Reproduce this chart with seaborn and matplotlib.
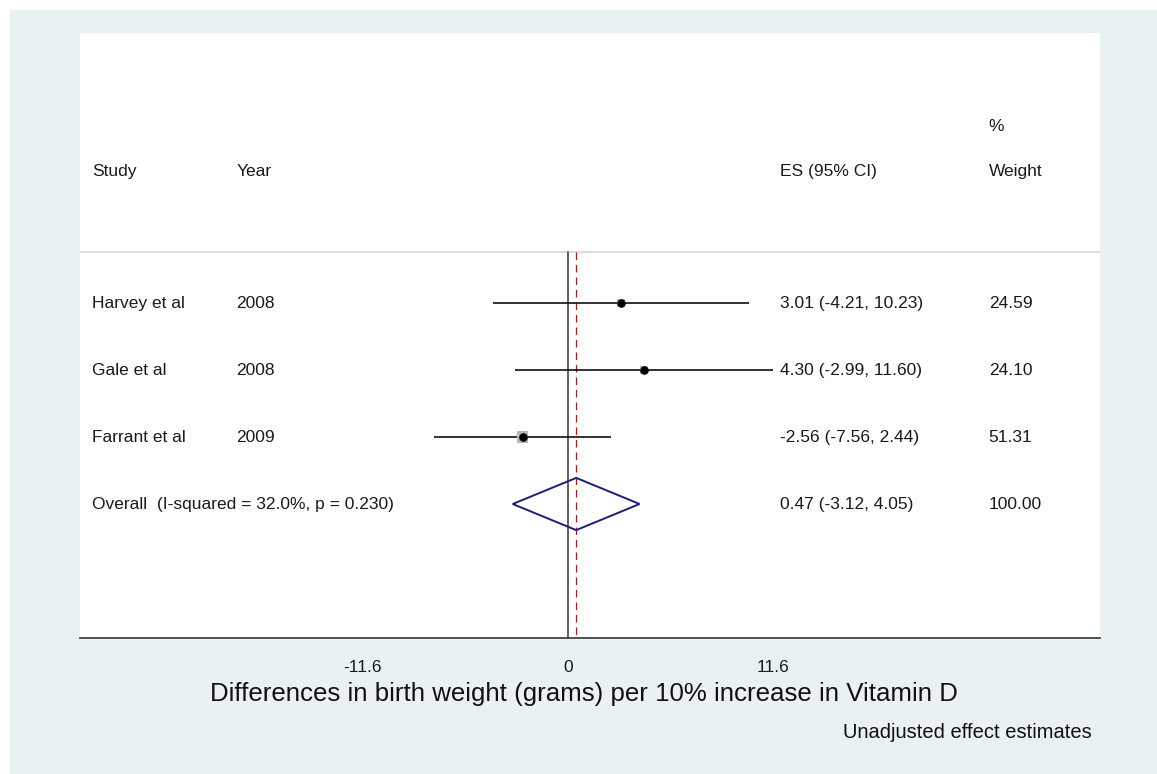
import matplotlib
matplotlib.use("Agg")
import matplotlib.pyplot as plt
import matplotlib.patches as mpatches
import numpy as np
import pandas as pd
import seaborn as sns

# Study-level estimates (differences in birth weight per 10% increase in vitamin D)
studies = ["Harvey et al", "Gale et al", "Farrant et al"]
years = ["2008", "2008", "2009"]
es = [3.01, 4.30, -2.56]
lo = [-4.21, -2.99, -7.56]
hi = [10.23, 11.60, 2.44]
weights = [24.59, 24.10, 51.31]

# Pooled estimate
overall_label = "Overall  (I-squared = 32.0%, p = 0.230)"
overall_es = 0.47
overall_lo = -3.12
overall_hi = 4.05
overall_weight = 100.00

xticks = [-11.6, 0, 11.6]
xtick_labels = ["-11.6", "0", "11.6"]

sns.set_style("white")
plt.rcParams["font.family"] = ["Liberation Sans", "DejaVu Sans"]

W, H = 1157, 774
fig = plt.figure(figsize=(W / 100, H / 100), dpi=100, facecolor="white")
# light tinted backdrop behind the plot region
fig.patches.append(mpatches.Rectangle((10 / W, 0), 1 - 10 / W, 1 - 10 / H,
                                      transform=fig.transFigure,
                                      facecolor="#eaf1f3", edgecolor="none", zorder=-5))

ax_left, ax_right, ax_top, ax_bottom = 80, 1100, 33, 638
ax = fig.add_axes([ax_left / W, 1 - ax_bottom / H,
                   (ax_right - ax_left) / W, (ax_bottom - ax_top) / H])
ax.set_zorder(2)
ax.set_facecolor("white")

ax.set_xlim(-27.6, 30.1)
ax.set_ylim(5.0, -4.03)

rows = np.arange(len(studies))
df = pd.DataFrame({"study": studies, "year": years, "es": es, "lo": lo,
                   "hi": hi, "weight": weights, "row": rows})

text_kw = dict(fontsize=12.5, color="#1a1a1a", va="center")
col_study, col_year, col_es, col_wt = -26.9, -18.75, 12.0, 23.8

# header
ax.text(col_study, -1.97, "Study", **text_kw)
ax.text(col_year, -1.97, "Year", **text_kw)
ax.text(col_es, -1.97, "ES (95% CI)", **text_kw)
ax.text(col_wt, -2.63, "%", **text_kw)
ax.text(col_wt, -1.97, "Weight", **text_kw)
ax.axhline(-0.76, color="#dddddd", lw=1.5, zorder=1)

# null line and pooled-estimate line
ax.plot([0, 0], [-0.76, 5.0], color="#555555", lw=1.3, zorder=2, clip_on=False)
ax.plot([overall_es, overall_es], [-0.76, 5.0], color="#9a2020", lw=0.9,
        ls=(0, (6, 4)), zorder=2)

# confidence intervals
ax.hlines(df["row"], df["lo"], df["hi"], color="#111111", lw=1.2, zorder=3)

# weight squares (area proportional to study weight) and point estimates
sq_sizes = [63 * w / max(weights) for w in weights]
ax.scatter(df["es"], df["row"], s=sq_sizes, marker="s", color="#b8b8b8",
           edgecolor="none", zorder=4)
sns.scatterplot(data=df, x="es", y="row", ax=ax, s=32, color="black",
                edgecolor="black", zorder=5, legend=False)

# pooled diamond
yo = len(studies)
ax.fill([overall_lo, overall_es, overall_hi, overall_es],
        [yo, yo - 0.39, yo, yo + 0.39],
        facecolor="none", edgecolor="#1c1f7a", lw=1.4, zorder=5)

# row labels
for i, r in df.iterrows():
    ax.text(col_study, r["row"], r["study"], **text_kw)
    ax.text(col_year, r["row"], r["year"], **text_kw)
    ax.text(col_es, r["row"], f"{r['es']:.2f} ({r['lo']:.2f}, {r['hi']:.2f})", **text_kw)
    ax.text(col_wt, r["row"], f"{r['weight']:.2f}", **text_kw)
ax.text(col_study, yo, overall_label, **text_kw)
ax.text(col_es, yo, f"{overall_es:.2f} ({overall_lo:.2f}, {overall_hi:.2f})", **text_kw)
ax.text(col_wt, yo, f"{overall_weight:.2f}", **text_kw)

# axis styling
for s in ["left", "top", "right"]:
    ax.spines[s].set_visible(False)
ax.spines["bottom"].set_color("#444444")
ax.spines["bottom"].set_linewidth(1.3)
ax.set_yticks([])
ax.set_xticks(xticks)
ax.set_xticklabels(xtick_labels, fontsize=12.5, color="#1a1a1a")
ax.tick_params(axis="x", direction="out", length=8, width=1.0, color="#444444", pad=8)
ax.set_xlabel("Differences in birth weight (grams) per 10% increase in Vitamin D",
              fontsize=18.6, color="#111111")
ax.xaxis.set_label_coords(0.494, -0.072)
ax.set_ylabel("")

fig.text(1092 / W, 1 - 733 / H, "Unadjusted effect estimates", ha="right",
         va="center", fontsize=14.5, color="#111111")

fig.savefig("out.png", dpi=100, facecolor=fig.get_facecolor())
